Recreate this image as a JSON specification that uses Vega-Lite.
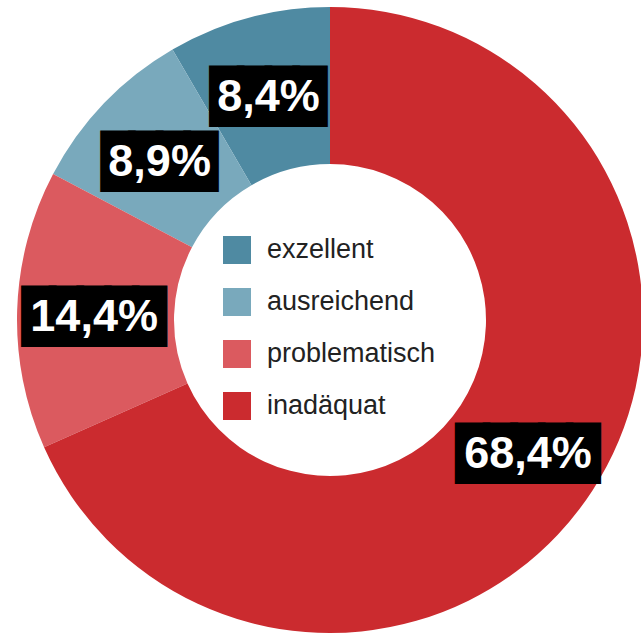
{
  "$schema": "https://vega.github.io/schema/vega-lite/v6.json",
  "width": 622,
  "height": 640,
  "padding": {"left": 19, "top": 0, "right": 0, "bottom": 0},
  "autosize": {"type": "none"},
  "background": "white",
  "config": {"view": {"stroke": null}},
  "data": {
    "values": [
      {"kategorie": "exzellent", "anteil": 8.4, "label": "8,4%"},
      {"kategorie": "ausreichend", "anteil": 8.9, "label": "8,9%"},
      {"kategorie": "problematisch", "anteil": 14.4, "label": "14,4%"},
      {"kategorie": "inadäquat", "anteil": 68.4, "label": "68,4%"}
    ]
  },
  "encoding": {
    "theta": {"field": "anteil", "type": "quantitative", "stack": true},
    "order": {"field": "anteil", "type": "quantitative", "sort": "descending"}
  },
  "layer": [
    {
      "mark": {"type": "arc", "outerRadius": 313, "innerRadius": 156},
      "encoding": {
        "color": {
          "field": "kategorie",
          "type": "nominal",
          "scale": {
            "domain": ["exzellent", "ausreichend", "problematisch", "inadäquat"],
            "range": ["#4f8aa2", "#79a9bc", "#db5a5f", "#cb2b2f"]
          },
          "legend": {
            "title": null,
            "orient": "none",
            "legendX": 203,
            "legendY": 235,
            "padding": 0,
            "symbolType": "square",
            "symbolSize": 784,
            "symbolStrokeColor": null,
            "rowPadding": 23,
            "labelOffset": 15,
            "labelFont": "Liberation Sans",
            "labelFontSize": 27,
            "labelColor": "#222222",
            "labelLimit": 300
          }
        }
      }
    },
    {
      "mark": {
        "type": "text",
        "radius": 236,
        "font": "DejaVu Sans Mono",
        "fontSize": 46,
        "fill": "black",
        "stroke": "black",
        "strokeWidth": 7,
        "strokeJoin": "miter",
        "baseline": "middle",
        "align": "center",
        "dy": 6
      },
      "encoding": {
        "text": {
          "condition": {"test": "length(datum.label) == 5", "value": "█████"},
          "value": "████"
        }
      }
    },
    {
      "mark": {
        "type": "text",
        "radius": 236,
        "font": "Liberation Sans",
        "fontWeight": "bold",
        "fontSize": 45,
        "fill": "white",
        "baseline": "middle",
        "align": "center",
        "dy": 5
      },
      "encoding": {"text": {"field": "label"}}
    }
  ]
}
